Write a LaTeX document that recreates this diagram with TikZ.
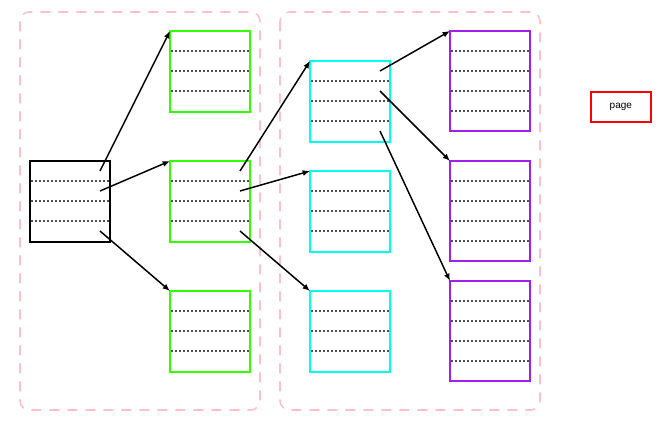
\documentclass[tikz,border=0pt]{standalone}
\usepackage{fontspec}
\setmainfont{Liberation Sans}
\usetikzlibrary{arrows.meta}
\definecolor{gvgreen}{RGB}{51,255,0}
\definecolor{gvcyan}{RGB}{0,255,238}
\definecolor{gvpurple}{RGB}{160,32,240}
\definecolor{gvpink}{RGB}{255,192,203}
\definecolor{dotgrey}{RGB}{80,80,80}
\tikzset{
  cluster/.style={draw=gvpink, line width=1.2pt, dash pattern=on 7.5pt off 6pt, rounded corners=7pt},
  rec/.style={draw, line width=1.3pt, anchor=north west, minimum width=60pt, inner sep=0pt, outer sep=0pt},
  rec4/.style={rec, minimum height=60.75pt},
  rec5/.style={rec, minimum height=75pt},
  sep/.style={dotgrey, line width=1pt, dash pattern=on 1.2pt off 1.8pt},
  link/.style={line width=1.1pt, -{Latex[length=5.5pt,width=4.5pt]}},
}
\begin{document}
\begin{tikzpicture}[x=0.75pt,y=-0.75pt]
\useasboundingbox (0,0) rectangle (662,432);
% clusters
\draw[cluster] (20,12) rectangle (260,410);
\draw[cluster] (280,12) rectangle (540,410);
% boxes
\node[rec4, draw=black] (k) at (30,161) {};
\node[rec4, draw=gvgreen] (g1) at (170,31) {};
\node[rec4, draw=gvgreen] (g2) at (170,161) {};
\node[rec4, draw=gvgreen] (g3) at (170,291) {};
\node[rec4, draw=gvcyan] (c1) at (310,61) {};
\node[rec4, draw=gvcyan] (c2) at (310,171) {};
\node[rec4, draw=gvcyan] (c3) at (310,291) {};
\node[rec5, draw=gvpurple] (p1) at (450,31) {};
\node[rec5, draw=gvpurple] (p2) at (450,161) {};
\node[rec5, draw=gvpurple] (p3) at (450,281) {};
\node[draw=red, line width=1.3pt, minimum width=45pt, minimum height=22.5pt, inner sep=0pt, anchor=north west, font=\fontsize{7.5}{9}\selectfont] (page) at (590,91) {page};
% separators
\foreach \n in {k,g1,g2,g3,c1,c2,c3}{
  \foreach \d in {15,30,45}{
    \draw[sep] ([xshift=0.8pt,yshift=-\d pt]\n.north west) -- ([xshift=-0.8pt,yshift=-\d pt]\n.north east);
  }
}
\foreach \n in {p1,p2,p3}{
  \foreach \d in {15,30,45,60}{
    \draw[sep] ([xshift=0.8pt,yshift=-\d pt]\n.north west) -- ([xshift=-0.8pt,yshift=-\d pt]\n.north east);
  }
}
% ports
\coordinate (k1) at ([xshift=-7.5pt,yshift=-7.5pt]k.north east);
\coordinate (k2) at ([xshift=-7.5pt,yshift=-22.5pt]k.north east);
\coordinate (k3) at ([xshift=-7.5pt,yshift=-52.5pt]k.north east);
\coordinate (ga) at ([xshift=-7.5pt,yshift=-7.5pt]g2.north east);
\coordinate (gb) at ([xshift=-7.5pt,yshift=-22.5pt]g2.north east);
\coordinate (gc) at ([xshift=-7.5pt,yshift=-52.5pt]g2.north east);
\coordinate (ca) at ([xshift=-7.5pt,yshift=-7.5pt]c1.north east);
\coordinate (cb) at ([xshift=-7.5pt,yshift=-22.5pt]c1.north east);
\coordinate (cc) at ([xshift=-7.5pt,yshift=-52.5pt]c1.north east);
% links
\draw[link] (k1) -- (g1.north west);
\draw[link] (k2) -- (g2.north west);
\draw[link] (k3) -- (g3.north west);
\draw[link] (ga) -- (c1.north west);
\draw[link] (gb) -- (c2.north west);
\draw[link] (gc) -- (c3.north west);
\draw[link] (ca) -- (p1.north west);
\draw[link] (cb) -- (p2.north west);
\draw[link] (cc) -- (p3.north west);
\end{tikzpicture}
\end{document}
